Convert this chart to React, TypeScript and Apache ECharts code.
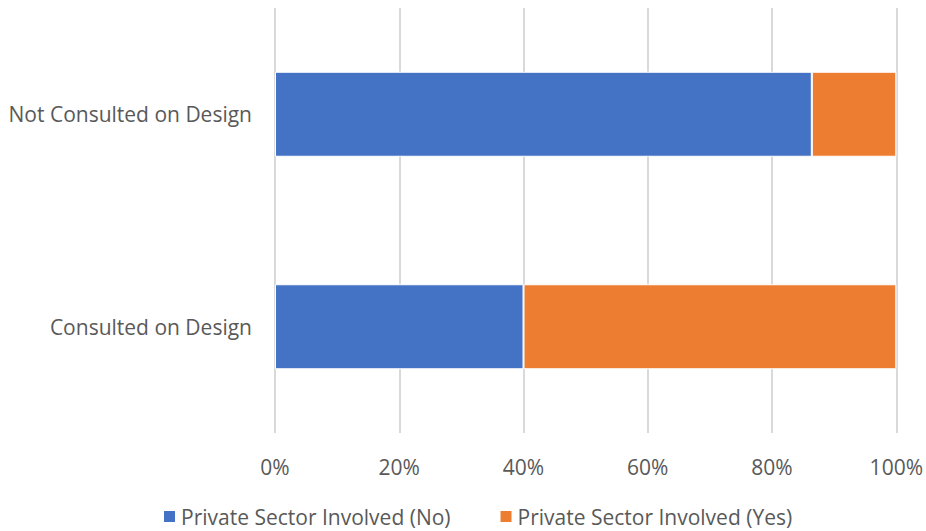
import React, { useEffect, useRef } from "react";
import * as echarts from "echarts";

const categories = ["Consulted on Design", "Not Consulted on Design"];
const seriesNames = ["Private Sector Involved (No)", "Private Sector Involved (Yes)"];
const noValues = [40, 86.4];
const yesValues = [60, 13.6];
const colors = ["#4472C4", "#ED7D31"];

export default function App() {
  const ref = useRef<HTMLDivElement>(null);
  useEffect(() => {
    if (!ref.current) return;
    const chart = echarts.init(ref.current, null, { renderer: "svg" });
    const font = "'Open Sans', Lato, sans-serif";
    chart.setOption({
      animation: false,
      textStyle: { fontFamily: font },
      grid: { left: 275, right: 29, top: 8, bottom: 98, containLabel: false },
      legend: {
        bottom: -1,
        left: 157,
        itemWidth: 13,
        itemHeight: 13,
        itemGap: 48,
        icon: "rect",
        textStyle: { fontSize: 21, color: "#595959", fontFamily: font },
        data: seriesNames,
      },
      xAxis: {
        type: "value",
        min: 0,
        max: 100,
        interval: 20,
        axisLine: { show: false },
        axisTick: { show: false },
        axisLabel: {
          formatter: "{value}%",
          fontSize: 21,
          color: "#595959",
          margin: 23,
          fontFamily: font,
        },
        splitLine: { show: true, lineStyle: { color: "#D9D9D9", width: 2 } },
      },
      yAxis: {
        type: "category",
        data: categories,
        axisLine: { show: false },
        axisTick: { show: false },
        axisLabel: { fontSize: 21, color: "#595959", margin: 23, fontFamily: font },
      },
      series: [
        {
          name: seriesNames[0],
          type: "bar",
          stack: "total",
          data: noValues,
          barWidth: "40%",
          itemStyle: { color: colors[0], borderColor: "#ffffff", borderWidth: 1 },
        },
        {
          name: seriesNames[1],
          type: "bar",
          stack: "total",
          data: yesValues,
          barWidth: "40%",
          itemStyle: { color: colors[1], borderColor: "#ffffff", borderWidth: 1 },
        },
      ],
    });
    return () => chart.dispose();
  }, []);
  return <div ref={ref} style={{ width: 926, height: 531, position: "absolute", left: 0, top: 0 }} />;
}
